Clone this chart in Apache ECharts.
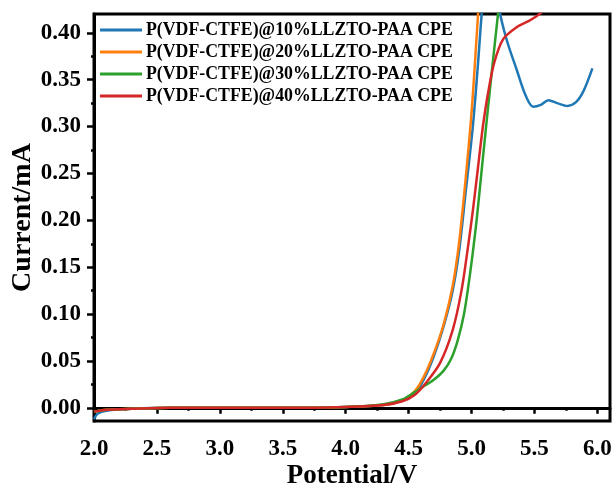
<!DOCTYPE html>
<html>
<head>
<meta charset="utf-8">
<script src="https://cdn.jsdelivr.net/npm/echarts@6/dist/echarts.min.js"></script>
<style>
  html, body { margin: 0; padding: 0; background: #fff; }
  #main { width: 616px; height: 493px; }
</style>
</head>
<body>
<div id="main"></div>
<script>
// LSV curves (potential in V, current in mA)
var names = [
  'P(VDF-CTFE)@10%LLZTO-PAA CPE',
  'P(VDF-CTFE)@20%LLZTO-PAA CPE',
  'P(VDF-CTFE)@30%LLZTO-PAA CPE',
  'P(VDF-CTFE)@40%LLZTO-PAA CPE'
];
var colors = ['#1f77b4', '#ff7f0e', '#2ca02c', '#d62728'];

var blueX = [2.00, 2.03, 2.1, 2.3, 2.6, 3.0, 3.5, 4.0, 4.3, 4.45, 4.55, 4.62, 4.70, 4.78, 4.85, 4.90, 4.95, 5.01, 5.05, 5.09, 5.14, 5.18, 5.22, 5.28, 5.36, 5.43, 5.49, 5.55, 5.61, 5.68, 5.76, 5.83, 5.89, 5.96];
var blueY = [-0.012, -0.006, -0.003, -0.001, 0, 0, 0, 0.001, 0.003, 0.008, 0.016, 0.030, 0.055, 0.088, 0.125, 0.166, 0.226, 0.300, 0.365, 0.435, 0.490, 0.470, 0.425, 0.392, 0.360, 0.333, 0.321, 0.323, 0.328, 0.325, 0.322, 0.326, 0.338, 0.362];

var orangeX = [2.0, 2.1, 2.3, 2.6, 3.0, 3.5, 4.0, 4.3, 4.45, 4.55, 4.62, 4.70, 4.78, 4.85, 4.90, 4.95, 5.00, 5.04, 5.08];
var orangeY = [-0.004, -0.002, -0.001, 0, 0, 0, 0.001, 0.003, 0.008, 0.018, 0.033, 0.058, 0.090, 0.130, 0.175, 0.240, 0.315, 0.395, 0.480];

var greenX = [2.0, 2.1, 2.3, 2.6, 3.0, 3.5, 4.0, 4.3, 4.45, 4.55, 4.62, 4.70, 4.78, 4.84, 4.89, 4.94, 4.99, 5.04, 5.08, 5.12, 5.17, 5.21, 5.24];
var greenY = [-0.004, -0.002, -0.001, 0, 0, 0, 0.001, 0.004, 0.009, 0.017, 0.023, 0.030, 0.040, 0.053, 0.072, 0.100, 0.145, 0.200, 0.253, 0.306, 0.370, 0.420, 0.460];

var redX = [2.0, 2.1, 2.3, 2.6, 3.0, 3.5, 4.0, 4.3, 4.45, 4.55, 4.64, 4.75, 4.85, 4.92, 4.97, 5.01, 5.05, 5.09, 5.13, 5.18, 5.25, 5.36, 5.46, 5.54, 5.62];
var redY = [-0.004, -0.002, -0.001, 0, 0, 0, 0.001, 0.003, 0.007, 0.014, 0.027, 0.048, 0.083, 0.125, 0.170, 0.210, 0.255, 0.300, 0.335, 0.368, 0.393, 0.406, 0.413, 0.420, 0.430];

var xTicks = [2.0, 2.5, 3.0, 3.5, 4.0, 4.5, 5.0, 5.5, 6.0];
var xMinor = [2.25, 2.75, 3.25, 3.75, 4.25, 4.75, 5.25, 5.75];
var yTicks = [0.00, 0.05, 0.10, 0.15, 0.20, 0.25, 0.30, 0.35, 0.40];
var yMinor = [0.025, 0.075, 0.125, 0.175, 0.225, 0.275, 0.325, 0.375];

function pairs(xs, ys) {
  var out = [];
  for (var i = 0; i < xs.length; i++) out.push([xs[i], ys[i]]);
  return out;
}

var curves = [pairs(blueX, blueY), pairs(orangeX, orangeY), pairs(greenX, greenY), pairs(redX, redY)];

var font = 'Liberation Serif';
var xRange = { min: 2.0, max: 6.1 };
var yRange = { min: -0.014, max: 0.42 };

var myChart = echarts.init(document.getElementById('main'));
myChart.setOption({
  animation: false,
  color: colors,
  grid: {
    left: 94, right: 6, top: 14, bottom: 72,
    outerBoundsMode: 'none', containLabel: false,
    show: true, borderColor: '#000', borderWidth: 3, backgroundColor: 'transparent'
  },
  legend: {
    orient: 'vertical',
    left: 100, top: 21, padding: 0,
    itemGap: 4, itemWidth: 42, itemHeight: 3,
    icon: 'rect',
    data: names,
    textStyle: { fontFamily: font, fontWeight: 'bold', fontSize: 17.8, lineHeight: 18, color: '#000', padding: [0, 0, 0, -1] }
  },
  xAxis: [{
    type: 'value', min: xRange.min, max: xRange.max,
    name: 'Potential/V', nameLocation: 'middle', nameGap: 42, nameMoveOverlap: false,
    nameTextStyle: { fontFamily: font, fontWeight: 'bold', fontSize: 27, color: '#000' },
    axisLine: { lineStyle: { color: '#000', width: 3 } },
    axisTick: { customValues: xTicks, length: 6, lineStyle: { width: 2.5, color: '#000' } },
    axisLabel: {
      customValues: xTicks, margin: 17,
      fontFamily: font, fontWeight: 'bold', fontSize: 23, color: '#000',
      formatter: function (v) { return v.toFixed(1); }
    },
    splitLine: { show: false }
  }, {
    type: 'value', min: xRange.min, max: xRange.max, position: 'bottom',
    axisLine: { show: false },
    axisTick: { customValues: xMinor, length: 3, lineStyle: { width: 2.5, color: '#000' } },
    axisLabel: { show: false },
    splitLine: { show: false }
  }],
  yAxis: [{
    type: 'value', min: yRange.min, max: yRange.max,
    name: 'Current/mA', nameLocation: 'middle', nameGap: 57, nameMoveOverlap: false,
    nameTextStyle: { fontFamily: font, fontWeight: 'bold', fontSize: 28, color: '#000' },
    axisLine: { lineStyle: { color: '#000', width: 3 } },
    axisTick: { customValues: yTicks, length: 7, lineStyle: { width: 2.5, color: '#000' } },
    axisLabel: {
      customValues: yTicks, margin: 13,
      fontFamily: font, fontWeight: 'bold', fontSize: 23, color: '#000',
      formatter: function (v) { return v.toFixed(2); }
    },
    splitLine: { show: false }
  }, {
    type: 'value', min: yRange.min, max: yRange.max, position: 'left',
    axisLine: { show: false },
    axisTick: { customValues: yMinor, length: 3, lineStyle: { width: 2.5, color: '#000' } },
    axisLabel: { show: false },
    splitLine: { show: false }
  }],
  series: curves.map(function (d, i) {
    return {
      name: names[i], type: 'line', data: d,
      smooth: 0.3, showSymbol: false, clip: true,
      lineStyle: { width: 2.5, color: colors[i] },
      z: i === 3 ? 5 : 3
    };
  })
});
</script>
</body>
</html>
